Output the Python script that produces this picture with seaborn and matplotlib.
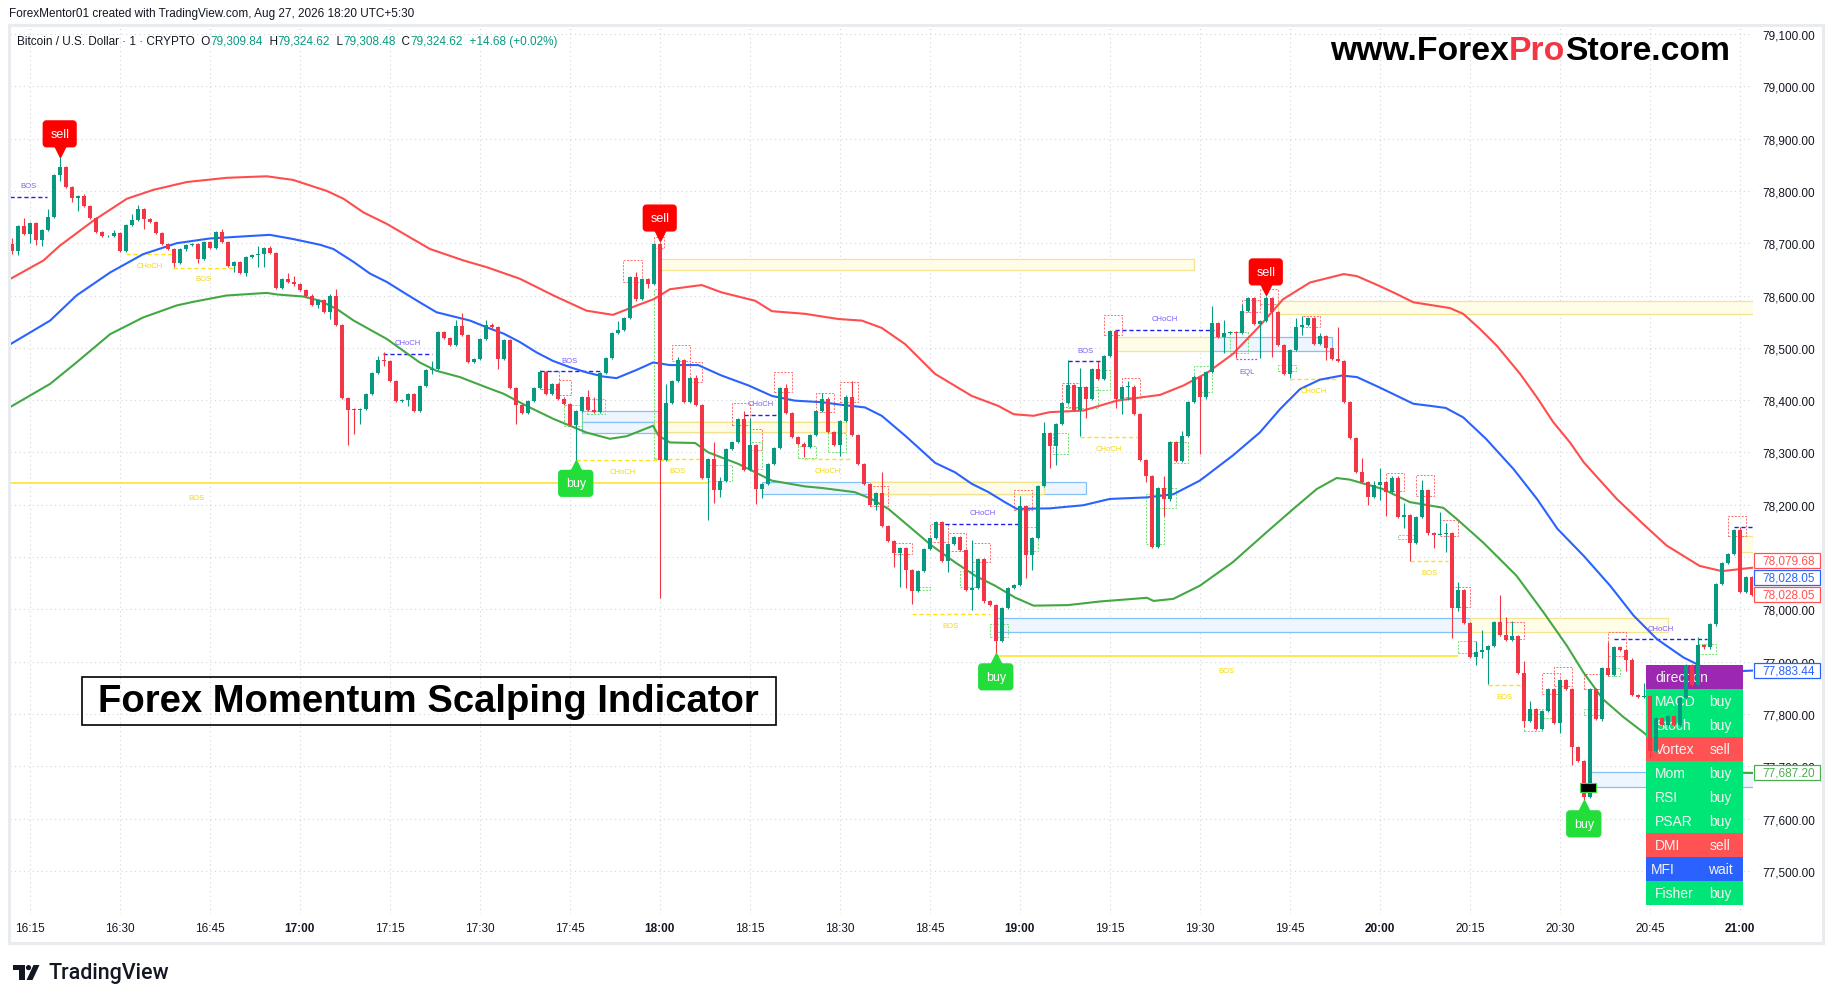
import matplotlib
matplotlib.use("Agg")
import matplotlib.pyplot as plt
import matplotlib.transforms as mtransforms
from matplotlib.patches import Rectangle, Polygon, Circle
import numpy as np
import pandas as pd
import seaborn as sns

# ------------------------------------------------------------------ data
session_start = "16:12"          # time of candle index 0 (1-minute bars)
first_open = 78699

closes = [
    78685, 78733, 78717, 78738, 78706, 78726, 78750, 78830, 78845, 78807,
    78786, 78790, 78771, 78749, 78722, 78713, 78714, 78720, 78685, 78735,
    78744, 78766, 78746, 78740, 78720, 78698, 78689, 78663, 78688, 78697,
    78699, 78669, 78703, 78690, 78722, 78703, 78656, 78664, 78643, 78674,
    78678, 78680, 78690, 78682, 78615, 78632, 78625, 78622, 78610, 78600,
    78582, 78591, 78568, 78600, 78543, 78404, 78382, 78381, 78383, 78412,
    78452, 78476, 78474, 78436, 78398, 78400, 78412, 78379, 78427, 78457,
    78460, 78530, 78518, 78506, 78542, 78525, 78473, 78478, 78517, 78543,
    78539, 78479, 78514, 78423, 78390, 78376, 78399, 78423, 78453, 78411,
    78430, 78403, 78392, 78353, 78380, 78406, 78381, 78377, 78451, 78480,
    78529, 78535, 78557, 78636, 78594, 78632, 78622, 78699, 78285, 78394,
    78436, 78476, 78397, 78443, 78390, 78252, 78287, 78228, 78245, 78306,
    78320, 78363, 78266, 78315, 78230, 78239, 78277, 78308, 78424, 78375,
    78329, 78317, 78310, 78333, 78380, 78403, 78339, 78314, 78360, 78405,
    78333, 78278, 78239, 78199, 78222, 78159, 78131, 78107, 78117, 78076,
    78035, 78073, 78115, 78136, 78166, 78092, 78125, 78139, 78113, 78037,
    78041, 78097, 78015, 78008, 77939, 78002, 78041, 78046, 78198, 78104,
    78136, 78236, 78337, 78313, 78354, 78394, 78429, 78381, 78425, 78403,
    78459, 78441, 78485, 78533, 78403, 78425, 78426, 78374, 78286, 78255,
    78120, 78232, 78210, 78320, 78284, 78331, 78397, 78444, 78405, 78453,
    78547, 78520, 78528, 78530, 78529, 78570, 78596, 78545, 78551, 78596,
    78569, 78506, 78450, 78495, 78539, 78543, 78557, 78508, 78522, 78499,
    78479, 78474, 78397, 78327, 78263, 78243, 78215, 78238, 78243, 78225,
    78252, 78176, 78180, 78126, 78176, 78228, 78145, 78142, 78144, 78146,
    78002, 78037, 77974, 77908, 77918, 77922, 77929, 77976, 77950, 77942,
    77948, 77878, 77787, 77810, 77772, 77805, 77848, 77783, 77864, 77848,
    77737, 77710, 77641, 77848, 77791, 77888, 77874, 77927, 77923, 77904,
    77837, 77832, 77834, 77729, 77792, 77778, 77796, 77778, 77831, 77894,
    77856, 77932, 77927, 77971, 78049, 78088, 78105, 78151, 78033, 78061,
    78028,
]

wick_high = {
    0: 78710, 2: 78749, 3: 78741, 6: 78766, 8: 78864, 12: 78794, 17: 78726,
    20: 78755, 21: 78773, 35: 78728, 41: 78694, 43: 78694, 46: 78643,
    47: 78638, 54: 78613, 61: 78484, 62: 78492, 70: 78474, 74: 78553,
    75: 78567, 79: 78554, 80: 78548, 88: 78458, 96: 78419, 97: 78406,
    101: 78551, 104: 78645, 107: 78701, 108: 78703, 109: 78430, 111: 78482,
    114: 78448, 117: 78319, 118: 78253, 122: 78380, 123: 78366, 129: 78430,
    135: 78414, 139: 78410, 140: 78436, 145: 78263, 160: 78132, 168: 78216,
    172: 78359, 176: 78476, 178: 78462, 181: 78475, 186: 78436, 192: 78255,
    194: 78322, 195: 78340, 197: 78448, 200: 78579, 202: 78553, 205: 78583,
    209: 78600, 214: 78557, 215: 78560, 218: 78528, 221: 78539, 225: 78289,
    227: 78245, 228: 78271, 232: 78203, 235: 78247, 238: 78186, 239: 78165,
    241: 78053, 244: 77939, 245: 77961, 248: 78028, 249: 77986, 250: 77978,
    252: 77901, 253: 77824, 266: 77937, 272: 77859, 281: 77947, 288: 78158,
}

wick_low = {
    0: 78679, 1: 78678, 3: 78701, 4: 78696, 5: 78694, 8: 78819, 10: 78778,
    11: 78762, 22: 78728, 27: 78655, 31: 78662, 37: 78645, 39: 78637,
    41: 78655, 42: 78655, 47: 78618, 51: 78576, 53: 78556, 56: 78315,
    57: 78335, 58: 78355, 62: 78466, 66: 78388, 70: 78449, 81: 78460,
    84: 78355, 94: 78286, 104: 78590, 106: 78615, 108: 78022, 116: 78171,
    117: 78203, 118: 78215, 124: 78201, 125: 78212, 132: 78292, 138: 78294,
    144: 78190, 147: 78080, 148: 78043, 149: 78040, 150: 78011, 156: 78072,
    160: 77999, 164: 77916, 169: 78060, 170: 78076, 173: 78270, 174: 78276,
    178: 78332, 179: 78366, 184: 78385, 185: 78374, 186: 78401, 189: 78243,
    192: 78178, 198: 78297, 202: 78490, 204: 78480, 208: 78480, 210: 78482,
    213: 78443, 215: 78525, 219: 78477, 226: 78200, 228: 78209, 229: 78179,
    232: 78155, 233: 78093, 237: 78117, 238: 78142, 239: 78110, 240: 77945,
    241: 77996, 244: 77894, 245: 77907, 246: 77857, 252: 77774, 257: 77780,
    258: 77763, 260: 77703, 262: 77635, 265: 77786, 269: 77882, 272: 77831,
    273: 77715,
}

# band readings: (bar index, price)
upper_x = [-0.5, 5.3, 8, 13.6, 19.2, 23.6, 29.2, 35.8, 42.5, 46.9, 52.5, 55.3,
           58.6, 62.5, 69.7, 75.3, 79.2, 84.7, 90.3, 95.8, 100.2, 104.2, 107,
           109.7, 115, 118.3, 123.9, 126.7, 132.2, 137.8, 141.7, 145, 148.9,
           153.9, 160, 164.4, 167, 170.3, 173, 178.6, 184.2, 191.4, 195.3,
           199.2, 203.5, 208, 211.9, 216.4, 222, 224.2, 228, 230.8, 233.6,
           236.4, 239.7, 241.9, 244.7, 247.5, 251.4, 254.2, 256.9, 259.7, 262,
           267.5, 271.9, 275.8, 281.3, 285, 290.5]
upper_y = [78630, 78667, 78695, 78743, 78785, 78802, 78817, 78825, 78828,
           78821, 78800, 78785, 78759, 78737, 78689, 78667, 78654, 78632,
           78600, 78571, 78563, 78581, 78593, 78612, 78620, 78606, 78590,
           78570, 78565, 78555, 78552, 78538, 78507, 78450, 78408, 78389,
           78373, 78370, 78377, 78380, 78399, 78410, 78428, 78452, 78488,
           78542, 78593, 78625, 78641, 78637, 78618, 78603, 78587, 78582,
           78576, 78565, 78536, 78504, 78450, 78405, 78358, 78319, 78281,
           78211, 78163, 78122, 78083, 78073, 78080]

basis_x = [-0.5, 6.4, 10.8, 16.4, 21.9, 27.5, 33, 38.6, 43, 46.9, 51.4, 53.6,
           57, 59.7, 62.5, 65.3, 68, 70.8, 73.6, 76.4, 79.2, 82, 84.7, 87.5,
           90.2, 93, 95.8, 98.6, 100.8, 104.2, 106.9, 109.7, 114.4, 118.3,
           122.8, 126.7, 130.5, 135, 138.3, 142.2, 145, 148.9, 151.7, 153.9,
           157.2, 160, 162.8, 165.5, 167.5, 173, 178.6, 183, 189.2, 193.6, 198,
           203.5, 208, 211.4, 214.7, 218, 221.7, 224.2, 228, 233.6, 236.4, 239,
           241.9, 245.7, 250.3, 254.2, 257.6, 262, 266.4, 270.3, 274.2, 278.6,
           281.4, 284.3, 290.5]
basis_y = [78505, 78552, 78600, 78644, 78679, 78700, 78709, 78713, 78716,
           78708, 78697, 78689, 78664, 78642, 78626, 78606, 78587, 78568,
           78560, 78552, 78539, 78527, 78511, 78491, 78475, 78463, 78453,
           78445, 78442, 78458, 78472, 78467, 78467, 78447, 78428, 78408,
           78399, 78396, 78391, 78386, 78370, 78332, 78303, 78280, 78262,
           78240, 78224, 78205, 78192, 78193, 78199, 78211, 78214, 78220,
           78246, 78294, 78338, 78383, 78421, 78439, 78447, 78444, 78424,
           78393, 78389, 78385, 78367, 78326, 78268, 78211, 78154, 78102,
           78045, 77988, 77943, 77908, 77892, 77880, 77883]

lower_x = [-0.5, 6.4, 10.8, 16.4, 21.9, 27.5, 30.3, 35.8, 42.5, 44.2, 48.6,
           51.4, 54.2, 57, 62.5, 68, 70.8, 74.7, 79.2, 82, 85.8, 90.3, 95.8,
           99.7, 102.5, 106.9, 107.8, 109.7, 113.9, 116.1, 121.1, 126.7, 132.2,
           135, 140.5, 143.3, 146.1, 149.4, 153.3, 157.2, 160.6, 163.9, 167.3,
           170.3, 176, 181.4, 189.2, 190.3, 193.6, 198, 203.5, 209.1, 213.6,
           217.5, 220.8, 223, 228.5, 233, 238.6, 240.8, 245.2, 250.8, 255.3,
           259.2, 261.9, 265.2, 268.6, 271.9, 276, 280, 284, 290.5]
lower_y = [78385, 78431, 78472, 78526, 78558, 78581, 78588, 78600, 78605,
           78602, 78598, 78590, 78574, 78552, 78517, 78472, 78456, 78444,
           78424, 78412, 78389, 78364, 78338, 78326, 78331, 78351, 78332,
           78319, 78318, 78300, 78278, 78246, 78235, 78232, 78224, 78211,
           78192, 78160, 78122, 78090, 78064, 78045, 78022, 78007, 78008,
           78015, 78022, 78016, 78020, 78045, 78090, 78147, 78192, 78230,
           78251, 78248, 78230, 78205, 78194, 78173, 78128, 78064, 77994,
           77930, 77880, 77828, 77794, 77765, 77725, 77698, 77688, 77687]

sell_bars = [8, 108, 209]
buy_bars = [94, 164, 262]

# market-structure breaks: (start bar, end bar, level, label)
bull_breaks = [
    (-0.3, 5.9, 78789, "BOS"), (61.9, 70.0, 78489, "CHoCH"),
    (88.0, 98.0, 78455, "BOS"), (122.0, 127.8, 78372, "CHoCH"),
    (155.6, 168.0, 78164, "CHoCH"), (176.0, 182.0, 78474, "BOS"),
    (183.9, 200.3, 78535, "CHoCH"), (267.0, 282.5, 77943, "CHoCH"),
    (287.0, 290.5, 78157, ""),
]
bear_breaks = [
    (19.0, 26.9, 78679, "CHoCH"), (26.9, 36.9, 78653, "BOS"),
    (94.0, 109.7, 78285, "CHoCH"), (107.0, 115.0, 78287, "BOS"),
    (132.0, 140.0, 78287, "CHoCH"), (150.0, 163.0, 77991, "BOS"),
    (178.0, 187.5, 78329, "CHoCH"), (213.0, 221.0, 78440, "CHoCH"),
    (233.0, 239.4, 78092, "BOS"), (246.0, 251.7, 77855, "BOS"),
]
major_breaks = [(-2.0, 116.0, 78241, 30.8, "BOS"), (164.0, 241.0, 77911, 202.5, "BOS")]
equal_lows = [(204.0, 207.7, 78479, "EQL")]

zones_blue = [(95, 108, 78359, 78380), (95, 108, 78338, 78359),
              (107, 139, 78339, 78358), (125, 179, 78220, 78243),
              (200, 220, 78493, 78520), (164, 243, 77956, 77983),
              (263, 290.5, 77660, 77688)]
zones_yellow = [(107.9, 197, 78648, 78670), (107, 139, 78339, 78358),
                (143, 172, 78220, 78243), (184, 200, 78493, 78520),
                (211, 290.5, 78565, 78590), (243, 276, 77956, 77983),
                (288, 290.5, 78110, 78140)]
liquidity_box = (261.3, 264.0, 77650, 77668)

swing_high_boxes = [
    (101.9, 105, 78625, 78667), (88.2, 91.2, 78421, 78455), (91.2, 93.2, 78410, 78439),
    (107, 108.7, 78690, 78712), (110, 113, 78475, 78506), (113, 115, 78434, 78472),
    (120, 123, 78353, 78394), (123, 125, 78305, 78345), (127, 130, 78415, 78453),
    (134, 137, 78378, 78413), (138, 141, 78396, 78434), (143, 146, 78198, 78236),
    (147, 150, 78106, 78126), (153, 156, 78128, 78164), (156, 159, 78112, 78146),
    (160, 163, 78090, 78126), (167, 170, 78190, 78228), (175, 178, 78386, 78432),
    (182, 185, 78524, 78563), (185, 188, 78405, 78442), (205, 208, 78568, 78592),
    (208, 211, 78584, 78612), (215, 218, 78539, 78560), (229, 232, 78226, 78261),
    (234, 237, 78217, 78257), (238, 241, 78141, 78170), (240, 243, 78004, 78043),
    (249, 252, 77943, 77976), (255, 258, 77838, 77878), (257, 260, 77854, 77890),
    (262, 265, 77848, 77876), (266, 269, 77911, 77956), (286, 289, 78140, 78179),
]
swing_low_boxes = [
    (92, 95, 78351, 78391), (95.8, 98.8, 78373, 78403), (107, 108.2, 78290, 78612),
    (116, 120, 78246, 78275), (123, 125, 78268, 78320), (131, 134, 78289, 78313),
    (136, 139, 78301, 78338), (150, 153, 78037, 78043), (158, 161, 78042, 78073),
    (163, 166, 77947, 77971), (168, 171, 78112, 78157), (173.5, 176, 78296, 78337),
    (176, 181, 78384, 78426), (180, 183, 78420, 78458), (189, 192, 78125, 78220),
    (191, 194, 78193, 78231), (193, 196, 78280, 78320), (197, 200, 78415, 78465),
    (203, 206, 78490, 78530), (211, 214, 78456, 78467), (231, 234, 78135, 78143),
    (241, 244, 77916, 77939), (252, 255, 77768, 77799), (254, 257, 77793, 77810),
    (262, 265, 77798, 77809), (266, 268, 77872, 77888), (281, 284, 77915, 77933),
]

time_labels = ["16:15", "16:30", "16:45", "17:00", "17:15", "17:30", "17:45",
               "18:00", "18:15", "18:30", "18:45", "19:00", "19:15", "19:30",
               "19:45", "20:00", "20:15", "20:30", "20:45", "21:00"]
price_ticks = [77500, 77600, 77700, 77800, 77900, 78000, 78100, 78200, 78300,
               78400, 78500, 78600, 78700, 78800, 78900, 79000, 79100]

table_names = ["direction", "MACD", "Stoch", "Vortex", "Mom", "RSI", "PSAR",
               "DMI", "MFI", "Fisher"]
table_signals = ["", "buy", "buy", "sell", "buy", "buy", "buy", "sell", "wait", "buy"]

# (value, colour key, stacking shift in px)
axis_price_labels = [(78079.68, "lred", 7.0), (78028.05, "blue", 17.5),
                     (78028.05, "lred", 0.0), (77883.44, "blue", 0.0),
                     (77687.20, "green", 0.0)]

header = "ForexMentor01 created with TradingView.com, Aug 27, 2026 18:20 UTC+5:30"
symbol_parts = [("Bitcoin / U.S. Dollar \u00b7 1 \u00b7 CRYPTO  O", "dark"),
                ("79,309.84", "teal"), ("  H", "dark"), ("79,324.62", "teal"),
                ("  L", "dark"), ("79,308.48", "teal"), ("  C", "dark"),
                ("79,324.62", "teal"), ("  +14.68 (+0.02%)", "teal")]
watermark_parts = [("www.Forex", "black"), ("Pro", "red"), ("Store.com", "black")]
title_text = "Forex Momentum Scalping Indicator"

# ------------------------------------------------------------------ style
UP, DOWN = "#089981", "#F23645"
C = {"dark": "#131722", "teal": "#089981", "black": "#000000", "red": "#F23645",
     "lred": "#FF5252", "blue": "#2962FF", "green": "#4CAF50"}
BAND_RED, BAND_BLUE, BAND_GREEN = "#FF4D4D", "#2962FF", "#43A843"
BULL_LINE, BULL_TXT = "#1F1FEF", "#7B5CFF"
BEAR_LINE, BEAR_TXT = "#FFE11A", "#F5D90A"
SIG_COL = {"": "#9C27B0", "buy": "#00E676", "sell": "#FF5252", "wait": "#2962FF"}

sns.set_theme(style="white")
plt.rcParams["font.family"] = ["Liberation Sans", "DejaVu Sans"]

W, H, DPI = 1835, 1004, 100
fig = plt.figure(figsize=(W / DPI, H / DPI), dpi=DPI)
fig.patch.set_facecolor("white")
PX = mtransforms.Affine2D().scale(1.0 / W, -1.0 / H).translate(0, 1) + fig.transFigure

AX_L, AX_R, AX_T, AX_B = 10, 1753, 28, 915
YMIN, YMAX = 77417.4, 79113.4
ax = fig.add_axes([AX_L / W, 1 - AX_B / H, (AX_R - AX_L) / W, (AX_B - AX_T) / H])
ax.set_facecolor("white")
ax.set_xlim(-0.28, 290.2)
ax.set_ylim(YMIN, YMAX)
px_per_price = (AX_B - AX_T) / (YMAX - YMIN)

# ------------------------------------------------------------------ candles
n = len(closes)
df = pd.DataFrame({"bar": np.arange(n), "close": closes})
df["open"] = [first_open] + closes[:-1]
df["top"] = df[["open", "close"]].max(axis=1)
df["bot"] = df[["open", "close"]].min(axis=1)
df["high"] = [max(wick_high.get(i, t + 2), t) for i, t in enumerate(df["top"])]
df["low"] = [min(wick_low.get(i, b - 2), b) for i, b in enumerate(df["bot"])]
col = np.where(df["close"] >= df["open"], UP, DOWN)

ax.vlines(df["bar"], df["low"], df["high"], colors=col, lw=0.8, zorder=3)
ax.bar(df["bar"], np.maximum(df["top"] - df["bot"], 1.6), bottom=df["bot"],
       width=0.72, color=col, linewidth=0, zorder=3.1)

# ------------------------------------------------------------------ bands
for xs, ys, c in [(upper_x, upper_y, BAND_RED), (basis_x, basis_y, BAND_BLUE),
                  (lower_x, lower_y, BAND_GREEN)]:
    sns.lineplot(x=xs, y=ys, ax=ax, color=c, linewidth=1.5, estimator=None,
                 sort=False, zorder=2)

# ------------------------------------------------------------------ zones
for (a, b, lo, hi) in zones_blue:
    ax.add_patch(Rectangle((a, lo), b - a, hi - lo, fc="#EEF5FF", ec="#86C1F5",
                           lw=0.9, zorder=1.2))
for (a, b, lo, hi) in zones_yellow:
    ax.add_patch(Rectangle((a, lo), b - a, hi - lo, fc="#FFFCE6", ec="#F3E38A",
                           lw=0.9, alpha=0.95, zorder=1.3))
for (a, b, lo, hi) in swing_high_boxes:
    ax.add_patch(Rectangle((a, lo), b - a, hi - lo, fill=False, ec="#FF6E6E",
                           lw=0.7, ls=(0, (2, 1.5)), zorder=1.5))
for (a, b, lo, hi) in swing_low_boxes:
    ax.add_patch(Rectangle((a, lo), b - a, hi - lo, fill=False, ec="#6FE26F",
                           lw=0.7, ls=(0, (2, 1.5)), zorder=1.5))
a, b, lo, hi = liquidity_box
ax.add_patch(Rectangle((a, lo), b - a, hi - lo, fc="black", ec="#3CDC3C", lw=0.8, zorder=3.3))

# ------------------------------------------------------------------ structure lines
def tag(x, y, s, color, dy):
    ax.annotate(s, xy=(x, y), xytext=(0, dy), textcoords="offset points",
                ha="center", va="center", fontsize=5.5, color=color, zorder=4)

for (a, b, lvl, s) in bull_breaks:
    ax.hlines(lvl, a, b, colors=BULL_LINE, lw=1.0, ls=(0, (3, 2)), zorder=1.8)
    if s:
        tag((a + b) / 2, lvl, s, BULL_TXT, 8)
for (a, b, lvl, s) in bear_breaks:
    ax.hlines(lvl, a, b, colors=BEAR_LINE, lw=1.0, ls=(0, (3, 2)), zorder=1.8)
    tag((a + b) / 2, lvl, s, BEAR_TXT, -8)
for (a, b, lvl, tx, s) in major_breaks:
    ax.hlines(lvl, a, b, colors=BEAR_LINE, lw=1.1, zorder=1.8)
    tag(tx, lvl, s, BEAR_TXT, -10.5)
for (a, b, lvl, s) in equal_lows:
    ax.hlines(lvl, a, b, colors=BULL_TXT, lw=0.9, ls=(0, (1.5, 1.5)), zorder=1.8)
    tag((a + b) / 2, lvl, s, BULL_TXT, -9)

# ------------------------------------------------------------------ signal labels
def signal(i, price, text, fc, up):
    sgn = 1 if up else -1
    tri = mtransforms.offset_copy(ax.transData, fig=fig, x=0, y=sgn * 4.5, units="points")
    ax.plot([i], [price], marker="v" if up else "^", ms=8, color=fc, mec=fc,
            transform=tri, zorder=6, clip_on=False)
    ax.annotate(text, xy=(i, price), xytext=(0, sgn * 17), textcoords="offset points",
                ha="center", va="center", color="white", fontsize=9, zorder=6.1,
                bbox=dict(boxstyle="round,pad=0.55,rounding_size=0.25", fc=fc, ec=fc))

for i in sell_bars:
    signal(i, df.loc[i, "high"], "sell", "#FF0000", True)
for i in buy_bars:
    signal(i, df.loc[i, "low"], "buy", "#22DD3A", False)

# ------------------------------------------------------------------ axes / grid
start_min = int(session_start[:2]) * 60 + int(session_start[3:])
tick_pos = [int(t[:2]) * 60 + int(t[3:]) - start_min for t in time_labels]
ax.set_xticks(tick_pos)
ax.set_xticklabels(time_labels)
ax.set_yticks(price_ticks)
ax.set_yticklabels([f"{p:,.2f}" for p in price_ticks])
ax.yaxis.tick_right()
ax.tick_params(axis="both", length=0, colors=C["dark"], labelsize=8.5)
ax.tick_params(axis="x", pad=5.5)
ax.tick_params(axis="y", pad=6.5)
for lab in ax.get_xticklabels():
    if lab.get_text().endswith(":00"):
        lab.set_fontweight("bold")
ax.grid(True, color="#D3D6DD", lw=0.8, ls=(0, (1, 3)))
ax.set_axisbelow(True)
for s in ax.spines.values():
    s.set_visible(False)

# price labels on the scale (boxes cover the tick labels, as on the original)
BL = mtransforms.blended_transform_factory(PX, ax.transData)
box_h = 15 / px_per_price
for val, key, shift in axis_price_labels:
    tr = mtransforms.offset_copy(BL, fig=fig, x=0, y=shift * 72 / DPI, units="points")
    ax.add_patch(Rectangle((1754, val - box_h / 2), 66, box_h, transform=tr,
                           fc="white", ec=C[key], lw=0.9, zorder=7, clip_on=False))
    ax.text(1762, val, f"{val:,.2f}", transform=tr, ha="left", va="center",
            fontsize=8.5, color=C[key], zorder=7.1, clip_on=False)

# ------------------------------------------------------------------ signal table
for r, (name, sig) in enumerate(zip(table_names, table_signals)):
    y0 = 666 + 24 * r
    ax.add_patch(Rectangle((1646, y0), 97, 24, transform=PX, fc=SIG_COL[sig],
                           ec="none", zorder=2.5, clip_on=False))
    ax.text(1655 if name != "MFI" else 1651, y0 + 12.5, name, transform=PX,
            ha="left", va="center", fontsize=10, color="#F4F4F4", zorder=2.6, clip_on=False)
    if sig:
        ax.text(1720, y0 + 12.5, sig, transform=PX, ha="center", va="center",
                fontsize=10, color="#F4F4F4", zorder=2.6, clip_on=False)

# ------------------------------------------------------------------ texts
def chain(x, y, parts, **kw):
    first, key = parts[0]
    t = fig.text(x, y, first, transform=PX, ha="left", va="center", color=C[key], **kw)
    for s, key in parts[1:]:
        t = ax.annotate(s, xy=(1, 0), xycoords=t, ha="left", va="bottom",
                        color=C[key], annotation_clip=False, **kw)
    return t

fig.text(9, 14, header, transform=PX, ha="left", va="center", fontsize=8.5, color=C["dark"])
chain(17, 42, symbol_parts, fontsize=8.5)
chain(1330, 51, watermark_parts, fontsize=24.3, fontweight="bold")

fig.text(428.5, 702, title_text, transform=PX, ha="center", va="center",
         fontsize=27.5, fontweight="bold", color="black")
fig.add_artist(Rectangle((81.5, 678), 694, 48, transform=PX, fill=False,
                         ec="black", lw=1.2, zorder=5))

# chart frame
fig.add_artist(Rectangle((9, 26), 1814, 918, transform=PX, fill=False,
                         ec="#E8EBF0", lw=2.2, zorder=10))

# TradingView logo
fig.add_artist(Polygon([(13, 966), (24.5, 966), (24.5, 981), (19.3, 981), (19.3, 971), (13, 971)],
                       closed=True, transform=PX, fc="#131722", ec="none"))
fig.add_artist(Circle((28.5, 968.6), 2.6, transform=PX, fc="#131722", ec="none"))
fig.add_artist(Polygon([(33.5, 966), (39.5, 966), (32.5, 981), (26.5, 981)],
                       closed=True, transform=PX, fc="#131722", ec="none"))
fig.text(48, 974, "TradingView", transform=PX, ha="left", va="center",
         fontsize=15.5, color="#131722", family=["Roboto", "Liberation Sans", "DejaVu Sans"],
         fontweight="medium")

fig.savefig("out.png", dpi=DPI, facecolor="white")
